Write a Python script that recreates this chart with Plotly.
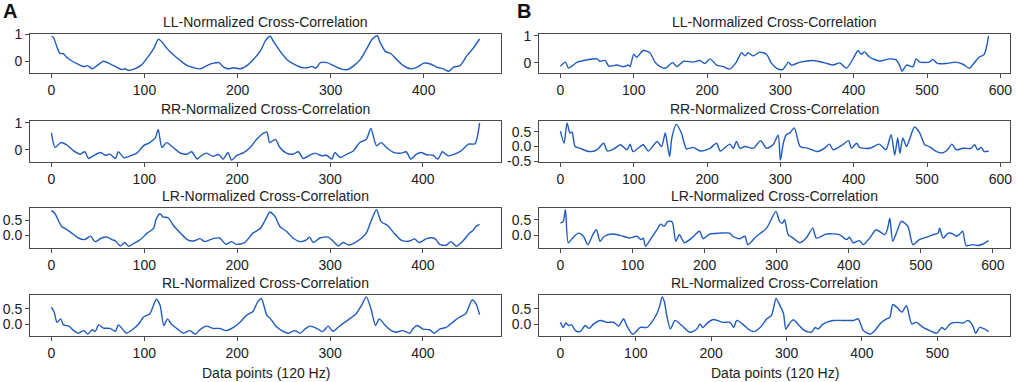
import plotly.graph_objects as go
from plotly.subplots import make_subplots

# ---------------- data ----------------
A_LL_x = [0,2,6,9,13,17,22,28,35,39,44,49,56,63,70,76,79,83,88,96,103,110,115,119,124,131,139,146,153,160,
          167,174,180,185,190,196,203,210,217,225,230,235,239,246,253,260,268,275,280,284,289,296,303,311,318,
          325,332,339,344,350,353,359,364,371,378,386,393,400,407,414,421,427,432,439,446,453,460]
A_LL_y = [0.93,0.9,0.53,0.3,0.28,0.13,0.01,-0.1,-0.2,-0.16,-0.28,-0.16,0.0,-0.1,-0.22,-0.31,-0.28,-0.34,-0.3,-0.16,
          0.13,0.48,0.82,0.71,0.48,0.24,0.01,-0.16,-0.24,-0.28,-0.16,-0.07,-0.05,-0.22,-0.28,-0.24,-0.28,-0.16,0.07,0.42,
          0.77,0.93,0.71,0.36,0.07,-0.1,-0.22,-0.24,-0.19,-0.26,-0.05,-0.05,-0.16,-0.28,-0.31,-0.16,0.07,0.48,0.79,0.95,
          0.71,0.36,0.3,0.07,-0.16,-0.28,-0.22,-0.07,-0.1,-0.22,-0.28,-0.37,-0.22,-0.16,0.19,0.48,0.83]

A_RR_x = [0,4,10,17,24,31,36,40,45,53,58,63,69,72,78,85,92,99,106,112,115,119,124,131,139,146,151,157,162,167,
          174,180,185,190,194,199,207,214,221,228,232,235,241,246,253,260,266,271,278,284,291,296,302,305,311,318,
          325,332,339,344,350,355,362,369,377,382,387,393,398,404,411,416,421,427,434,441,449,456,461]
A_RR_y = [0.63,0.09,0.27,0.17,-0.04,-0.16,-0.07,-0.32,-0.22,-0.1,-0.2,-0.16,-0.32,-0.07,-0.29,-0.22,-0.12,0.15,0.27,0.45,
          0.76,0.09,0.27,0.09,-0.12,-0.16,-0.07,-0.34,-0.2,-0.12,-0.24,-0.17,-0.34,-0.1,-0.38,-0.22,-0.1,0.09,0.39,0.61,
          0.66,0.27,0.39,0.09,-0.12,-0.16,-0.07,-0.32,-0.2,-0.12,-0.22,-0.2,-0.34,-0.1,-0.28,-0.16,-0.04,0.27,0.39,0.79,
          0.15,0.27,0.05,-0.1,-0.12,-0.07,-0.34,-0.16,-0.1,-0.18,-0.2,-0.34,-0.07,-0.22,-0.16,-0.04,0.21,0.23,1.0]

A_LR_x = [0,4,8,11,17,22,29,36,42,47,54,60,65,69,74,79,83,88,96,103,110,113,117,120,126,131,139,146,153,160,
          165,174,181,188,194,199,208,217,225,232,235,241,246,253,260,268,275,278,282,289,298,303,309,314,320,327,
          334,339,344,350,355,362,369,377,386,391,396,404,411,414,418,425,430,436,443,450,453,457,461]
A_LR_y = [0.82,0.71,0.45,0.29,0.18,0.07,-0.09,-0.14,-0.03,-0.21,-0.09,-0.06,-0.14,-0.19,-0.35,-0.24,-0.36,-0.28,-0.14,0.07,
          0.23,0.55,0.71,0.61,0.57,0.34,0.07,-0.14,-0.19,-0.11,-0.21,-0.11,-0.09,-0.3,-0.21,-0.3,-0.24,0.07,0.23,0.61,
          0.77,0.61,0.29,0.13,-0.09,-0.21,-0.14,-0.06,-0.24,-0.09,-0.06,-0.19,-0.35,-0.24,-0.32,-0.24,-0.09,0.07,0.45,0.84,
          0.45,0.32,0.07,-0.17,-0.19,-0.12,-0.24,-0.11,-0.09,-0.14,-0.3,-0.33,-0.21,-0.36,-0.19,0.07,0.13,0.29,0.36]

A_RL_x = [0,3,6,10,13,19,24,29,35,39,44,47,51,56,63,69,72,78,81,88,94,99,106,110,113,117,121,125,129,135,
          142,149,155,160,167,174,181,188,196,203,210,217,222,226,232,236,241,248,255,262,268,273,278,285,292,298,
          303,311,321,328,334,339,344,349,353,359,366,371,378,386,389,394,400,407,412,418,425,432,439,446,453,457,461]
A_RL_y = [0.55,0.39,0.07,0.18,-0.01,-0.05,-0.19,-0.27,-0.19,-0.3,-0.16,-0.22,-0.01,-0.11,-0.12,-0.21,-0.01,-0.19,-0.27,-0.14,
          0.02,0.23,0.34,0.61,0.8,0.61,-0.03,0.18,0.02,-0.12,-0.27,-0.19,-0.3,-0.16,-0.05,-0.12,-0.12,-0.19,-0.09,0.07,
          0.29,0.41,0.71,0.82,0.29,0.18,-0.03,-0.19,-0.27,-0.19,-0.27,-0.14,-0.05,-0.11,-0.22,-0.05,-0.21,-0.03,0.18,0.34,
          0.61,0.87,0.5,-0.03,0.18,-0.01,-0.19,-0.24,-0.19,-0.27,-0.14,-0.03,-0.14,-0.16,-0.27,-0.14,-0.09,0.07,0.23,0.34,
          0.77,0.66,0.31]

B_LL_x = [0,7,11,23,36,50,54,61,66,77,86,93,95,100,104,113,122,129,136,143,153,159,168,181,190,197,204,213,222,231,
          240,247,252,256,263,272,281,288,295,303,311,315,327,345,351,363,372,381,390,399,406,410,415,421,435,449,
          458,463,466,472,481,485,490,503,508,514,526,540,549,558,562,571,578,584]
B_LL_y = [-0.13,0.02,-0.2,0.02,0.1,0.14,0.05,0.08,-0.13,-0.09,-0.15,-0.09,-0.15,0.31,0.2,0.45,0.37,0.02,-0.15,-0.21,
          0.0,-0.15,0.05,0.02,0.08,-0.03,0.14,-0.09,-0.15,-0.24,0.02,0.37,0.25,0.37,0.25,0.39,0.31,-0.03,-0.21,-0.26,
          0.02,-0.09,0.02,0.08,0.05,-0.03,-0.09,-0.01,-0.21,0.14,0.45,0.31,0.4,0.22,0.06,0.14,0.1,-0.13,-0.32,-0.09,
          -0.15,0.14,0.02,0.02,0.12,-0.03,-0.03,0.02,-0.06,-0.21,-0.09,0.2,0.31,1.0]

B_RR_x = [0,5,9,13,16,20,27,39,50,59,64,73,82,91,95,99,109,113,120,132,138,143,146,149,152,158,165,172,181,191,
          204,213,218,231,236,240,245,252,263,273,281,290,297,300,304,308,313,319,327,338,351,360,367,372,385,393,
          397,404,408,422,435,444,451,456,460,463,467,472,476,483,490,497,503,513,522,528,534,540,549,560,565,569,
          574,578,584]
B_RR_y = [0.52,0.11,0.8,0.46,0.49,0.0,-0.06,-0.17,-0.11,0.11,-0.15,-0.08,0.06,-0.11,0.08,-0.17,0.0,0.06,-0.15,0.17,
          0.0,0.46,0.06,-0.34,0.29,0.75,0.46,-0.08,-0.03,-0.15,-0.06,0.11,-0.15,0.08,-0.06,0.17,-0.06,0.0,-0.06,0.2,
          -0.06,0.06,0.38,-0.46,0.11,0.4,0.46,0.63,0.0,-0.06,-0.17,-0.06,0.08,-0.11,0.06,0.2,-0.06,0.11,-0.03,-0.06,
          0.08,-0.11,0.4,-0.29,0.29,-0.23,0.29,0.0,0.23,0.66,0.46,0.06,0.0,-0.17,-0.21,-0.11,0.08,-0.11,-0.06,-0.06,
          0.06,-0.11,-0.03,-0.17,-0.15]

B_LR_x = [0,4,7,11,18,25,32,38,45,50,55,61,73,87,96,106,112,115,118,126,134,139,144,149,155,160,165,172,182,193,
          198,207,221,235,239,249,256,260,272,286,299,304,308,311,316,323,332,341,350,355,369,387,397,401,406,415,
          420,429,438,450,454,457,461,467,473,482,489,498,508,517,524,526,531,538,545,549,554,558,563,572,579,586,594]
B_LR_y = [0.39,0.45,0.82,-0.24,-0.06,0.07,-0.03,-0.3,0.02,0.18,-0.19,-0.03,0.04,-0.03,-0.09,-0.03,-0.14,-0.09,-0.35,-0.09,
          0.18,0.36,0.29,0.45,0.43,-0.19,0.02,-0.24,-0.09,0.13,-0.11,0.04,0.07,0.07,-0.03,-0.11,-0.03,-0.3,-0.03,0.23,
          0.77,0.45,0.39,0.5,0.02,-0.09,-0.24,-0.09,0.23,-0.09,0.04,0.02,-0.14,-0.06,-0.24,-0.17,-0.3,-0.09,0.18,0.02,
          0.23,0.55,-0.19,0.13,0.45,0.29,-0.3,-0.14,-0.06,0.02,0.07,0.23,-0.09,0.07,0.04,-0.03,0.04,0.13,-0.33,-0.3,
          -0.33,-0.28,-0.17]

B_RL_x = [0,4,7,11,15,20,26,33,38,44,53,62,71,77,82,84,88,96,106,115,121,128,132,135,138,141,146,152,161,172,
          181,185,189,196,203,216,225,230,234,243,249,256,265,274,280,283,286,291,296,299,305,309,316,324,333,338,
          342,347,353,362,375,389,395,402,411,417,426,433,437,441,448,453,459,466,472,481,490,499,506,510,517,525,
          534,541,547,551,556,563,568]
B_RL_y = [0.07,-0.09,0.05,-0.03,-0.01,-0.19,-0.22,-0.03,-0.12,0.02,0.13,0.07,0.07,-0.05,0.13,0.18,-0.03,-0.3,-0.09,-0.09,
          0.07,0.34,0.61,0.87,0.71,0.29,-0.14,0.13,-0.03,-0.24,-0.14,0.02,-0.09,0.07,0.16,0.07,0.07,-0.09,0.13,-0.01,
          -0.14,-0.22,-0.09,0.18,0.29,0.55,0.82,0.61,0.34,-0.14,0.07,0.15,-0.01,-0.19,-0.24,-0.09,-0.14,-0.01,0.07,0.13,
          0.13,0.13,0.18,-0.19,-0.3,-0.19,0.07,0.18,0.23,0.63,0.5,0.39,0.59,0.02,0.07,-0.09,-0.19,-0.27,-0.09,-0.16,
          0.02,0.07,0.05,0.13,-0.03,-0.27,-0.09,-0.14,-0.22]

titles = ["LL-Normalized Cross-Correlation", "RR-Normalized Cross-Correlation",
          "LR-Normalized Cross-Correlation", "RL-Normalized Cross-Correlation"]
panel_labels = ["A", "B"]
x_title = "Data points (120 Hz)"

y_ticks_A = [[0, 1], [0, 1], [0.0, 0.5], [0.0, 0.5]]
y_ticks_B = [[0, 1], [-0.5, 0.0, 0.5], [0.0, 0.5], [0.0, 0.5]]
y_fmt_A = ["{:.0f}", "{:.0f}", "{:.1f}", "{:.1f}"]
y_fmt_B = ["{:.0f}", "{:.1f}", "{:.1f}", "{:.1f}"]

series_A = [(A_LL_x, A_LL_y), (A_RR_x, A_RR_y), (A_LR_x, A_LR_y), (A_RL_x, A_RL_y)]
series_B = [(B_LL_x, B_LL_y), (B_RR_x, B_RR_y), (B_LR_x, B_LR_y), (B_RL_x, B_RL_y)]

for sx, sy in series_A + series_B:
    assert len(sx) == len(sy), (len(sx), len(sy))

# ---------------- layout ----------------
W, H = 1017, 382
col_px = [(30, 501), (539, 1010)]
row_px = [(34, 73), (121, 162), (208, 248), (295, 336)]
label_x = [1, 515]
LINE = "#1f5bbf"
FONT = "Liberation Sans, Arial, sans-serif"
TXT = "#222222"
AX = "#4a4a4a"


def pad(vals, frac=0.05):
    lo, hi = min(vals), max(vals)
    s = hi - lo
    return [lo - frac * s, hi + frac * s]


fig = make_subplots(rows=4, cols=2)

for c, (series, yt, yf) in enumerate([(series_A, y_ticks_A, y_fmt_A), (series_B, y_ticks_B, y_fmt_B)]):
    x0, x1 = col_px[c]
    for r, (sx, sy) in enumerate(series):
        fig.add_trace(go.Scatter(x=sx, y=sy, mode="lines",
                                 line=dict(color=LINE, width=1.4, shape="spline", smoothing=0.7),
                                 showlegend=False, hoverinfo="skip"),
                      row=r + 1, col=c + 1)
        y0, y1 = row_px[r]
        common = dict(showgrid=False, zeroline=False, showline=True, mirror=True, automargin=False,
                      linecolor=AX, linewidth=1, ticks="outside", ticklen=4, tickcolor=AX,
                      tickfont=dict(size=14, color=TXT, family=FONT))
        fig.update_xaxes(domain=[x0 / W, x1 / W], range=pad(sx), dtick=100, tick0=0,
                         row=r + 1, col=c + 1, **common)
        fig.update_yaxes(domain=[1 - y1 / H, 1 - y0 / H], range=pad(sy),
                         tickvals=yt[r], ticktext=[yf[r].format(v) for v in yt[r]],
                         row=r + 1, col=c + 1, **common)
        fig.add_annotation(text=titles[r], xref="paper", yref="paper",
                           x=(x0 + x1) / 2 / W, y=1 - y0 / H, xanchor="center", yanchor="bottom",
                           yshift=2, showarrow=False,
                           font=dict(size=14, color=TXT, family=FONT))
    fig.add_annotation(text=x_title, xref="paper", yref="paper",
                       x=(x0 + x1) / 2 / W, y=1 - 373 / H, xanchor="center", yanchor="middle",
                       showarrow=False, font=dict(size=14, color=TXT, family=FONT))
    fig.add_annotation(text="<b>" + panel_labels[c] + "</b>", xref="paper", yref="paper",
                       x=label_x[c] / W, y=1 - 11 / H, xanchor="left", yanchor="middle",
                       showarrow=False, font=dict(size=20, color="#111", family=FONT))

fig.update_layout(width=W, height=H, margin=dict(l=0, r=0, t=0, b=0),
                  paper_bgcolor="white", plot_bgcolor="white",
                  font=dict(family=FONT, size=14, color=TXT))

fig.write_html("out.html", config={"displayModeBar": False, "staticPlot": True},
               post_script="document.body.style.margin='0';document.body.style.overflow='hidden';")
